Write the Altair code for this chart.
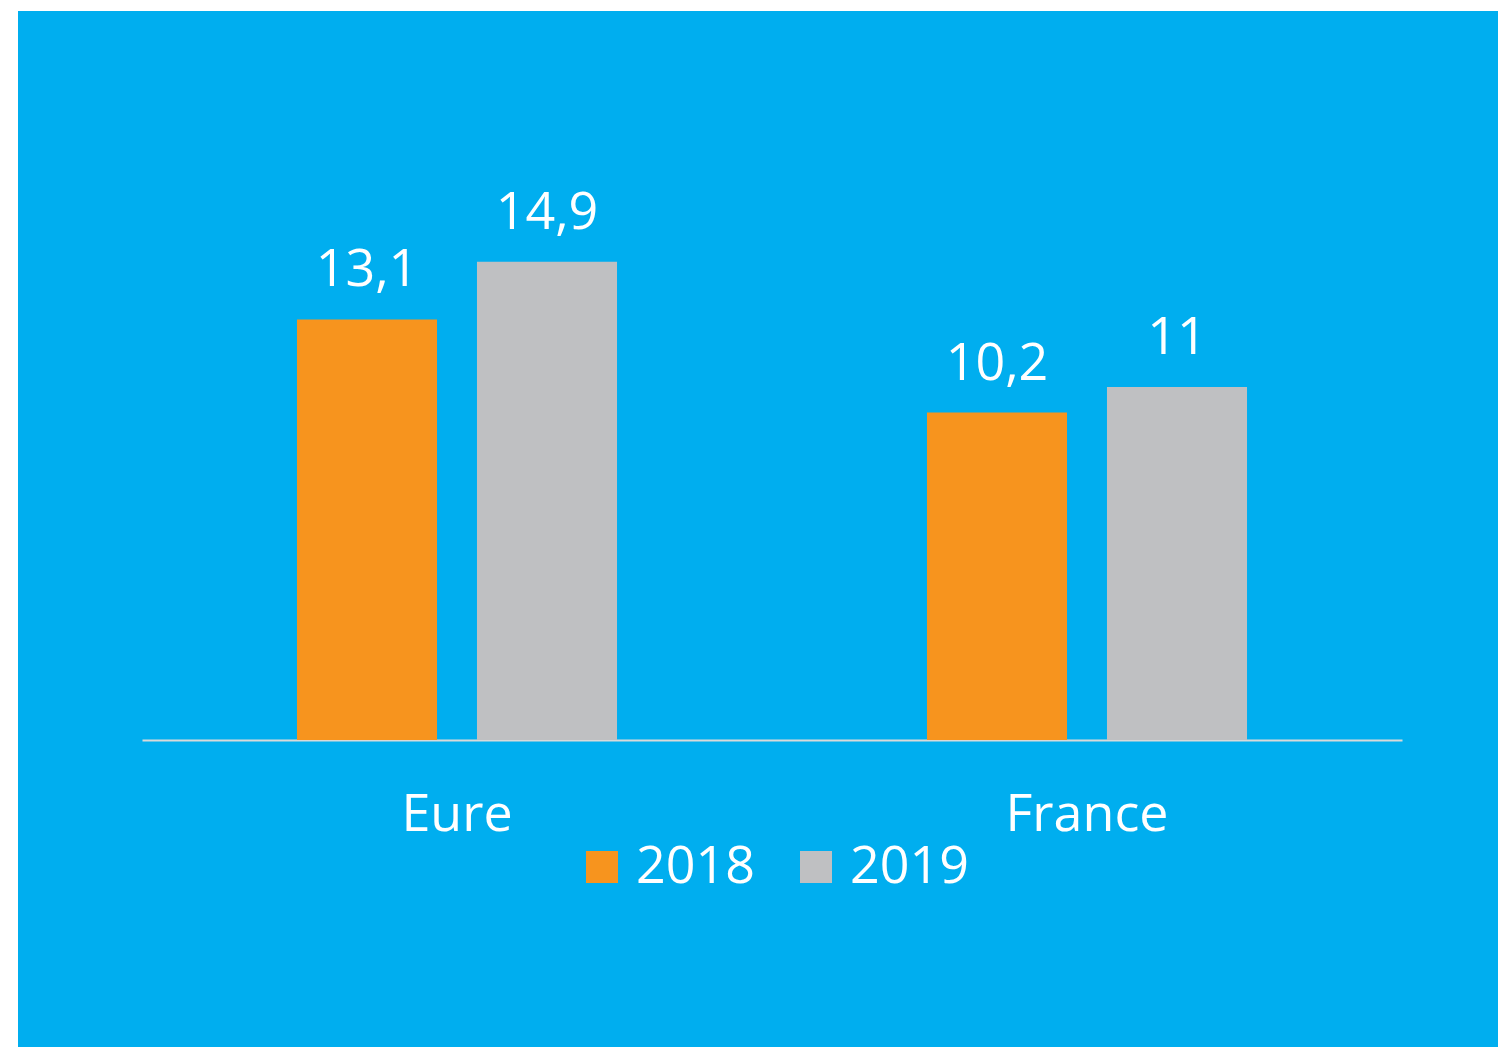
import altair as alt
import pandas as pd

# ---- data ----
categories = ["Eure", "France"]
years = ["2018", "2019"]
values_2018 = [13.1, 10.2]
values_2019 = [14.9, 11.0]

rows = []
for i, c in enumerate(categories):
    for yr, vals in zip(years, [values_2018, values_2019]):
        v = vals[i]
        rows.append({
            "zone": c,
            "annee": yr,
            "valeur": v,
            "etiquette": f"{v:g}".replace(".", ","),
        })
df = pd.DataFrame(rows)

FONT = "Open Sans"
BLUE = "#00AEEF"
COLORS = ["#F7941E", "#BFC0C2"]
FS = 52

PLOT_W = 1480
PLOT_H = 1036

x_enc = alt.X(
    "zone:N",
    sort=categories,
    scale=alt.Scale(range=[124, 1384], paddingInner=0, paddingOuter=0),
    axis=alt.Axis(
        title=None,
        orient="bottom",
        offset=-307,
        domainColor="#D9D9D9",
        domainWidth=2,
        ticks=False,
        tickSize=0,
        labelFont=FONT,
        labelFontSize=FS,
        labelColor="white",
        labelBaseline="alphabetic",
        labelPadding=90,
        labelAngle=0,
    ),
)
xoff_enc = alt.XOffset(
    "annee:N", sort=years, scale=alt.Scale(paddingInner=0.222, paddingOuter=0.861)
)
y_enc = alt.Y(
    "valeur:Q",
    scale=alt.Scale(domain=[-9.564, 22.71], nice=False, zero=False),
    axis=None,
)

bars = alt.Chart(df).mark_bar().encode(
    x=x_enc,
    xOffset=xoff_enc,
    y=y_enc,
    y2=alt.datum(0),
    color=alt.Color(
        "annee:N",
        sort=years,
        scale=alt.Scale(domain=years, range=COLORS),
        legend=alt.Legend(
            title=None,
            orient="none",
            legendX=558,
            legendY=830,
            direction="horizontal",
            symbolType="square",
            symbolSize=1024,
            symbolStrokeWidth=0,
            symbolOpacity=1,
            labelFont=FONT,
            labelFontSize=FS,
            labelColor="white",
            labelOffset=8,
            columnPadding=35,
            padding=0,
        ),
    ),
)

labels = alt.Chart(df).mark_text(
    font=FONT, fontSize=FS, color="white", baseline="alphabetic", dy=-33
).encode(
    x=x_enc,
    xOffset=xoff_enc,
    y=y_enc,
    text="etiquette:N",
)

chart = (
    alt.layer(bars, labels)
    .properties(
        width=PLOT_W,
        height=PLOT_H,
        background="white",
        padding={"left": 10, "top": 3, "right": 0, "bottom": 0},
        autosize=alt.AutoSizeParams(type="none"),
    )
    .configure_view(fill=BLUE, strokeWidth=0)
)

chart.save("out.html", embed_options={"renderer": "svg", "actions": False})
